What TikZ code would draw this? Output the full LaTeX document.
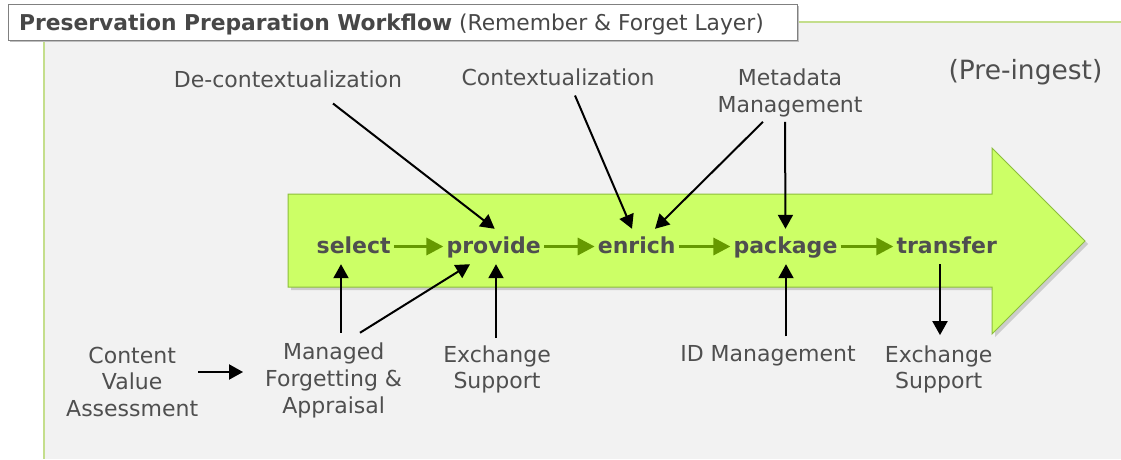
\documentclass[tikz,border=0pt]{standalone}
\usepackage{fontspec}
\setmainfont{DejaVu Sans}
\usetikzlibrary{arrows.meta}

\definecolor{panelgray}{HTML}{F2F2F2}
\definecolor{edgegreen}{RGB}{196,222,140}
\definecolor{limefill}{HTML}{CCFF66}
\definecolor{limeborder}{RGB}{140,190,60}
\definecolor{flowgreen}{HTML}{669900}
\definecolor{txtgray}{HTML}{4F4F4F}

\begin{document}
\begin{tikzpicture}[x=1pt,y=-1pt,
		label/.style={text=txtgray,font=\fontsize{22}{26.7}\selectfont,align=center,inner sep=2pt},
		flowword/.style={text=txtgray,font=\fontsize{22}{26}\selectfont\bfseries,inner sep=3pt,text height=21pt,text depth=8pt,anchor=base},
		flowarrow/.style={draw=flowgreen,line width=3.3pt,-{Triangle[length=17pt,width=17pt]}},
		inarrow/.style={draw=black,line width=2pt,-{Triangle[length=14pt,width=15pt]}}]
		\useasboundingbox (0,0) rectangle (1121,459);

		%draw the panel and the title box
		\fill[panelgray] (44,22) rectangle (1121,459);
		\draw[edgegreen,line width=1.5pt] (44,40) -- (44,459);
		\draw[edgegreen,line width=1.5pt] (797,22) -- (1121,22);
		\fill[black!25] (10,6) rectangle (799,42);
		\draw[fill=white,draw=black!50,line width=1pt] (8,4) rectangle (797,40);
		\node[anchor=base west,inner sep=0pt,text=black!72,font=\fontsize{21.8}{26}\selectfont] (title) at (19,30)
			{\textbf{Preservation Preparation Workflow} (Remember \& Forget Layer)};

		%draw the big arrow
		\fill[black!20] (291,197) -- (995,197) -- (995,151) -- (1088,244) -- (995,337) -- (995,290) -- (291,290) -- cycle;
		\draw[fill=limefill,draw=limeborder,line width=1pt] (288,194) -- (992,194) -- (992,148) -- (1085,241) -- (992,334) -- (992,287) -- (288,287) -- cycle;

		%workflow steps
		\node[flowword] (select) at (353.7,253) {select};
		\node[flowword] (provide) at (493.7,253) {provide};
		\node[flowword] (enrich) at (636.7,253) {enrich};
		\node[flowword] (package) at (785.5,253) {package};
		\node[flowword] (transfer) at (946.7,253) {transfer};

		\draw[flowarrow] (select) -- (provide);
		\draw[flowarrow] (provide) -- (enrich);
		\draw[flowarrow] (enrich) -- (package);
		\draw[flowarrow] (package) -- (transfer);

		%labels above and below
		\node[label,anchor=base] (decon) at (288,87) {De-contextualization};
		\node[label,anchor=base] (context) at (558,85) {Contextualization};
		\node[label] (metadata) at (790,92.6) {Metadata\\Management};
		\node[label,anchor=base,font=\fontsize{26.5}{30}\selectfont] (preingest) at (1025.5,79.3) {(Pre-ingest)};

		\node[label] (cva) at (132.2,381.7) {Content\\Value\\Assessment};
		\node[label] (mfa) at (333.7,380.3) {Managed\\Forgetting \&\\Appraisal};
		\node[label] (exchA) at (497,369.3) {Exchange\\Support};
		\node[label,anchor=base] (idm) at (768,361.7) {ID Management};
		\node[label] (exchB) at (938.7,369.3) {Exchange\\Support};

		%arrows into the workflow
		\draw[inarrow] ([xshift=45pt,yshift=-14pt]decon.south) -- ([xshift=1pt]provide.north);
		\draw[inarrow] ([xshift=17pt,yshift=-8pt]context.south) -- ([xshift=-4.7pt]enrich.north);
		\draw[inarrow] ([xshift=-27pt,yshift=-3pt]metadata.south) -- ([xshift=18.3pt]enrich.north);
		\draw[inarrow] ([xshift=-5pt,yshift=-3pt]metadata.south) -- (package.north);

		\draw[inarrow] ([xshift=7.3pt,yshift=8pt]mfa.north) -- ([xshift=-12.7pt]select.south);
		\draw[inarrow] ([xshift=26.3pt,yshift=8pt]mfa.north) -- ([xshift=-23.7pt]provide.south);
		\draw[inarrow] ([xshift=-1pt,yshift=5pt]exchA.north) -- ([xshift=2.3pt]provide.south);
		\draw[inarrow] ([xshift=18pt,yshift=7pt]idm.north) -- ([xshift=0.5pt]package.south);
		\draw[inarrow] ([xshift=-6.7pt]transfer.south) -- ([xshift=1.3pt,yshift=8pt]exchB.north);
		\draw[inarrow] ([xshift=-2pt,yshift=9.7pt]cva.east) -- ([xshift=-20pt,yshift=8.3pt]mfa.west);

	\end{tikzpicture}
\end{document}
